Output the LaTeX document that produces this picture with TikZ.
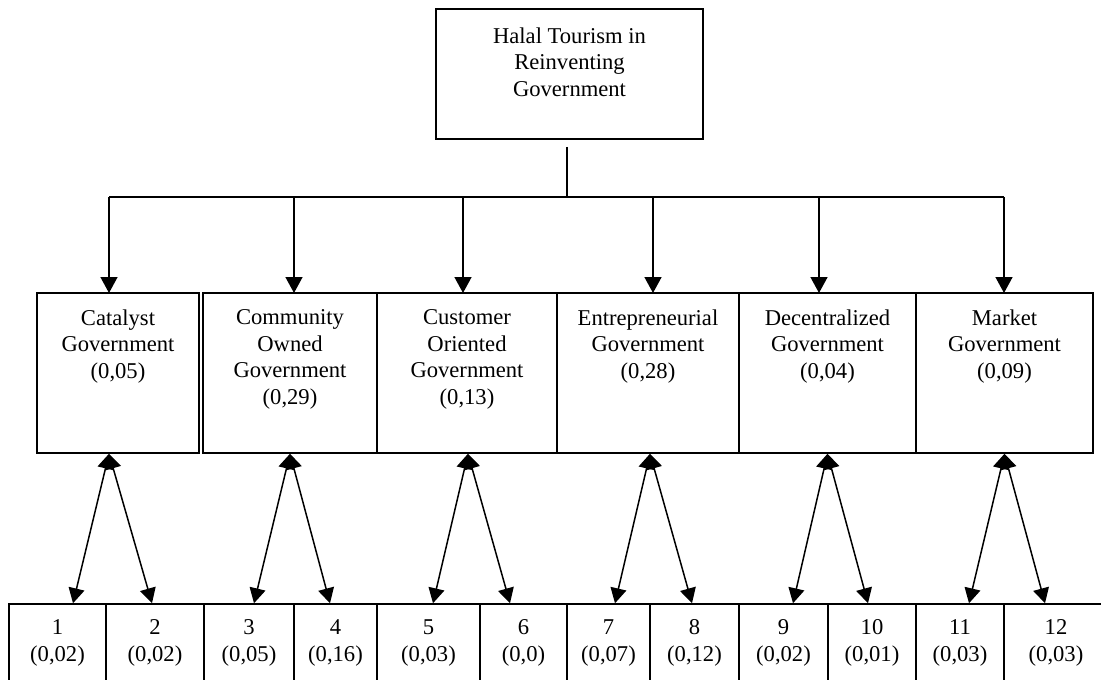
\documentclass[tikz,border=0pt]{standalone}
\usepackage{fontspec}
\setmainfont{Liberation Serif}
\usetikzlibrary{positioning,arrows.meta}
\tikzset{
  % --- boxes -----------------------------------------------------------------
  govbox/.style={rectangle,draw,line width=0.75pt,inner sep=0pt},
  boxtext/.style={anchor=north,align=center,inner sep=0pt,
                  font=\fontsize{11.3}{13.25}\selectfont},
  itembox/.style={govbox,minimum height=39pt,align=center,
                  font=\fontsize{11.3}{13.25}\selectfont},
  % --- connectors ------------------------------------------------------------
  bus/.style={line width=0.75pt},
  drop/.style={line width=0.75pt,-{Triangle[length=8pt,width=8.5pt]}},
  twoway/.style={line width=0.75pt,
                 {Triangle[length=7.5pt,width=8pt]}-{Triangle[length=7.5pt,width=8pt]}},
}

\begin{document}
\begin{tikzpicture}[x=0.5pt, y=-0.5pt]
  \clip (0,0) rectangle (1101,679);
  % --- the goal ----------------------------------------------------------
  \node[govbox,minimum width=133.5pt,minimum height=65pt] (top) at (569.5,74) {};
  \node[boxtext] (topt) at ([yshift=-9.5pt]top.north)
       {Halal Tourism in\\Reinventing\\Government};

  % --- the six principles ------------------------------------------------
  \node[govbox,minimum width=81pt,minimum height=80pt]   (m1) at (118,373)   {};
  \node[govbox,minimum width=87pt,minimum height=80pt]   (m2) at (290,373)   {};
  \node[govbox,minimum width=90pt,minimum height=80pt]   (m3) at (467,373)   {};
  \node[govbox,minimum width=91pt,minimum height=80pt]   (m4) at (648,373)   {};
  \node[govbox,minimum width=88.5pt,minimum height=80pt] (m5) at (827.5,373) {};
  \node[govbox,minimum width=88.5pt,minimum height=80pt] (m6) at (1004.5,373) {};

  \node[boxtext] (m1t) at ([yshift=-8.5pt]m1.north) {Catalyst\\Government\\(0,05)};
  \node[boxtext] (m2t) at ([yshift=-8.5pt]m2.north) {Community\\Owned\\Government\\(0,29)};
  \node[boxtext] (m3t) at ([yshift=-8.5pt]m3.north) {Customer\\Oriented\\Government\\(0,13)};
  \node[boxtext] (m4t) at ([yshift=-8.5pt]m4.north) {Entrepreneurial\\Government\\(0,28)};
  \node[boxtext] (m5t) at ([yshift=-8.5pt]m5.north) {Decentralized\\Government\\(0,04)};
  \node[boxtext] (m6t) at ([yshift=-8.5pt]m6.north) {Market\\Government\\(0,09)};

  % --- the twelve indicators ---------------------------------------------
  \node[itembox,minimum width=48.5pt] (b1)  at (57.5,643)  {1\\(0,02)};
  \node[itembox,minimum width=49pt]   (b2)  at (155,643)   {2\\(0,02)};
  \node[itembox,minimum width=45pt]   (b3)  at (249,643)   {3\\(0,05)};
  \node[itembox,minimum width=41.5pt] (b4)  at (335.5,643) {4\\(0,16)};
  \node[itembox,minimum width=51.5pt] (b5)  at (428.5,643) {5\\(0,03)};
  \node[itembox,minimum width=43.5pt] (b6)  at (523.5,643) {6\\(0,0)};
  \node[itembox,minimum width=41.5pt] (b7)  at (608.5,643) {7\\(0,07)};
  \node[itembox,minimum width=44.5pt] (b8)  at (694.5,643) {8\\(0,12)};
  \node[itembox,minimum width=44.5pt] (b9)  at (783.5,643) {9\\(0,02)};
  \node[itembox,minimum width=44pt]   (b10) at (872,643)   {10\\(0,01)};
  \node[itembox,minimum width=44pt]   (b11) at (960,643)   {11\\(0,03)};
  \node[itembox,minimum width=52pt]   (b12) at (1056,643)  {12\\(0,03)};

  % --- the tree from the goal down --------------------------------------
  \coordinate (stem) at (567,147);
  \coordinate (hub)  at (567,197);
  \coordinate (d1) at (109,293);
  \coordinate (d2) at (294,293);
  \coordinate (d3) at (463,293);
  \coordinate (d4) at (653,293);
  \coordinate (d5) at (819,293);
  \coordinate (d6) at (1004,293);
  \draw[bus] (stem) -- (hub);
  \draw[bus] (d1 |- hub) -- (d6 |- hub);
  \draw[drop] (d1 |- hub) -- (d1);
  \draw[drop] (d2 |- hub) -- (d2);
  \draw[drop] (d3 |- hub) -- (d3);
  \draw[drop] (d4 |- hub) -- (d4);
  \draw[drop] (d5 |- hub) -- (d5);
  \draw[drop] (d6 |- hub) -- (d6);

  % --- each principle with its two indicators ---------------------------
  \draw[twoway] ([xshift=-4.5pt]m1.south) -- ([xshift=7.75pt]b1.north);
  \draw[twoway] ([xshift=-4.5pt]m1.south) -- ([xshift=-1.5pt]b2.north);
  \draw[twoway] (m2.south) -- ([xshift=2.5pt]b3.north);
  \draw[twoway] (m2.south) -- ([xshift=-2.75pt]b4.north);
  \draw[twoway] ([xshift=0.5pt]m3.south) -- ([xshift=2.25pt]b5.north);
  \draw[twoway] ([xshift=0.5pt]m3.south) -- ([xshift=-6.75pt]b6.north);
  \draw[twoway] ([xshift=1pt]m4.south) -- ([xshift=3.25pt]b7.north);
  \draw[twoway] ([xshift=1pt]m4.south) -- ([xshift=-1.25pt]b8.north);
  \draw[twoway] (m5.south) -- ([xshift=4.75pt]b9.north);
  \draw[twoway] (m5.south) -- ([xshift=-2pt]b10.north);
  \draw[twoway] (m6.south) -- ([xshift=4.5pt]b11.north);
  \draw[twoway] (m6.south) -- ([xshift=-5.5pt]b12.north);
\end{tikzpicture}
\end{document}
